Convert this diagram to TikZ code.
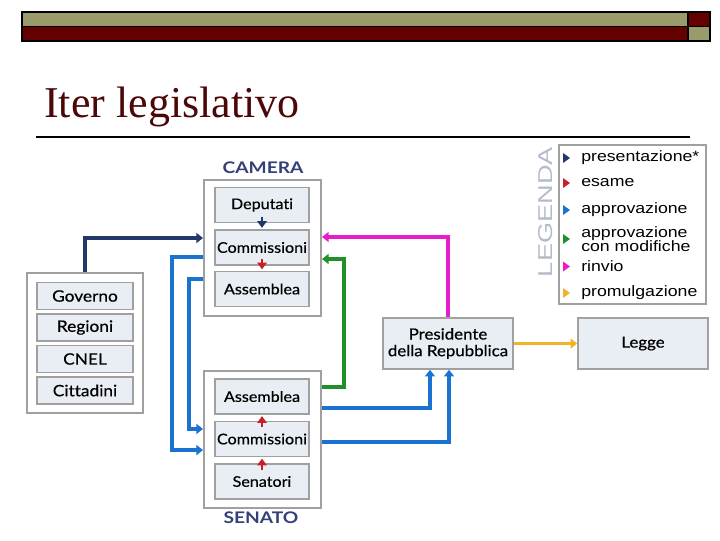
\documentclass[tikz,border=0pt]{standalone}
\usepackage{fontspec}
\usetikzlibrary{arrows.meta}
\setmainfont{Liberation Serif}
\newfontfamily\boxfont[FakeStretch=1.1, FakeBold=0.5, Ligatures=NoCommon]{Lato}
\newfontfamily\housefont[FakeStretch=1.2]{Lato Bold}
\newfontfamily\legfont[FakeStretch=1.18]{Liberation Sans}
\newfontfamily\legtitlefont[FakeStretch=1.36]{Liberation Sans}

\definecolor{barolive}{HTML}{9B9A6B}
\definecolor{barred}{HTML}{640000}
\definecolor{titlered}{HTML}{4C0808}
\definecolor{boxfill}{HTML}{E9EDF4}
\definecolor{boxline}{HTML}{A0A0A0}
\definecolor{housecol}{HTML}{34407A}
\definecolor{cpres}{HTML}{22386A}
\definecolor{cesame}{HTML}{C8202A}
\definecolor{cappr}{HTML}{1A73D0}
\definecolor{cmod}{HTML}{20902A}
\definecolor{crinvio}{HTML}{E81CC8}
\definecolor{cprom}{HTML}{F0B428}
\definecolor{legtitle}{HTML}{B4BCCB}

\begin{document}
\begin{tikzpicture}[x=0.75pt, y=-0.75pt,
	outbox/.style={draw=boxline, fill=white, line width=1.5pt},
	inbox/.style={draw=boxline, fill=boxfill, line width=1.2pt, inner sep=0pt,
		minimum width=70.5pt, minimum height=26.25pt,
		font=\boxfont\fontsize{11}{12}\selectfont},
	govbox/.style={inbox, minimum width=72pt, minimum height=20.25pt,
		font=\boxfont\fontsize{11.8}{12}\selectfont},
	bigbox/.style={inbox, minimum width=97.5pt, minimum height=38.25pt, align=center,
		font=\boxfont\fontsize{11.5}{12.5}\selectfont},
	house/.style={font=\housefont\fontsize{12}{13}\selectfont, text=housecol},
	link/.style={line width=2.6pt, -{Triangle[length=5pt,width=7.5pt]}},
	inner link/.style={line width=1.9pt, -{Triangle[length=5pt,width=7pt]}}]
\useasboundingbox (0,0) rectangle (720,540);

% top bar
\fill[barolive] (22,12) rectangle (688,26.5);
\fill[barred] (688,12) rectangle (710,26.5);
\fill[barred] (22,26.5) rectangle (688,41);
\fill[barolive] (688,26.5) rectangle (710,41);
\draw[line width=1.2pt] (22,12) rectangle (710,41);
\draw[line width=1.2pt] (22,26.5) -- (710,26.5) (688,12) -- (688,41);

% title
\node[anchor=base west, inner sep=0pt, text=titlered, font=\fontsize{33}{40}\selectfont]
	(title) at (44,117) {Iter legislativo};
\draw[line width=1.5pt] (36,137) -- (690,137);

% groups
\node[outbox, minimum width=87.75pt, minimum height=102pt] (camera) at (262.5,248) {};
\node[outbox, minimum width=87.75pt, minimum height=102.75pt] (senate) at (262.5,439.5) {};
\node[outbox, minimum width=87pt, minimum height=105pt] (gov) at (85,343) {};
\node[house] (camlabel) at (263,168) {CAMERA};
\node[house] (senlabel) at (261,518) {SENATO};

\node[inbox] (cam-dep) at (262,205) {Deputati};
\node[inbox] (cam-com) at (262,247.5) {Commissioni};
\node[inbox] (cam-ass) at (262,289) {Assemblea};
\node[inbox] (sen-ass) at (262,396.5) {Assemblea};
\node[inbox] (sen-com) at (262,439) {Commissioni};
\node[inbox] (sen-sen) at (262,481.5) {Senatori};

\foreach \name/\yy in {Governo/296, Regioni/327.5, CNEL/359, Cittadini/390.5}
	\node[govbox] (g-\name) at (85,\yy) {\name};

\node[bigbox] (pres) at (448,343.5) {Presidente\\della Repubblica};
\node[bigbox] (legge) at (643,343.5) {Legge};

% connectors
\draw[link, cpres] (gov.north) |- ([yshift=7.5pt]camera.west);
\draw[inner link, cpres] ([yshift=5pt]cam-dep.south) -- ([yshift=1pt]cam-com.north);
\draw[inner link, cesame] ([yshift=5pt]cam-com.south) -- ([yshift=1pt]cam-ass.north);
\draw[inner link, cesame] ([yshift=-5pt]sen-sen.north) -- ([yshift=-1pt]sen-com.south);
\draw[inner link, cesame] ([yshift=-5pt]sen-com.north) -- ([yshift=-1pt]sen-ass.south);
\draw[link, cappr] ([yshift=-6.75pt]camera.west) -- ++(-31,0) |- ([yshift=-7.9pt]senate.west);
\draw[link, cappr] ([yshift=-23.25pt]camera.west) -- ++(-14,0) |- ([yshift=7.9pt]senate.west);
\draw[link, crinvio] (pres.north) |- ([yshift=8.25pt]camera.east);
\draw[link, cmod] ([yshift=39.4pt]senate.east) -- ++(22,0) |- ([yshift=-8.25pt]camera.east);
\draw[link, cappr] ([yshift=23.6pt]senate.east) -| ([xshift=-13.5pt]pres.south);
\draw[link, cappr] ([yshift=-1.9pt]senate.east) -| ([xshift=0.75pt]pres.south);
\draw[link, cprom] (pres) -- (legge);

% legend
\node[draw=boxline, line width=0.8pt, minimum width=110.25pt, minimum height=119.25pt]
	(legend) at (632.5,224.5) {};
\node[rotate=90, text=legtitle, inner sep=0pt, font=\legtitlefont\fontsize{15}{16}\selectfont]
	(legname) at (546,212) {LEGENDA};
\foreach \c/\t/\yy [count=\i] in {cpres/presentazione*/158, cesame/esame/183,
		cappr/approvazione/210, cmod/{approvazione\\con modifiche}/239,
		crinvio/rinvio/266.5, cprom/promulgazione/293} {
	\fill[\c] (563,\yy-5) -- (570,\yy) -- (563,\yy+5) -- cycle;
	\node[anchor=west, inner sep=0pt, align=left, font=\legfont\fontsize{11.25}{11}\selectfont]
		(leg-\i) at (581,\yy) {\t};
}
\end{tikzpicture}
\end{document}
